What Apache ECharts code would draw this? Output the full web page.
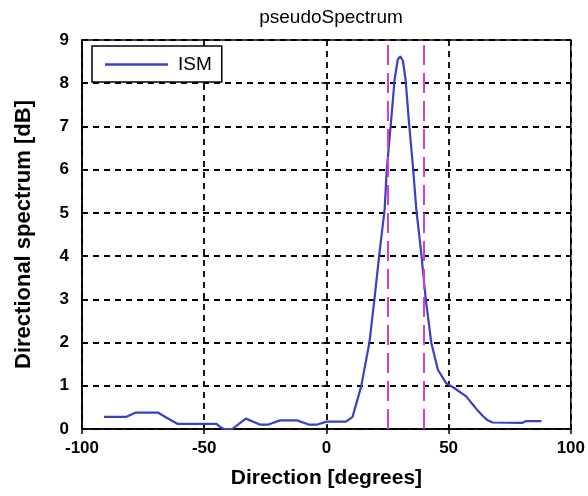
<!DOCTYPE html>
<html>
<head>
<meta charset="utf-8">
<script src="https://cdn.jsdelivr.net/npm/echarts@6/dist/echarts.min.js"></script>
<style>html,body{margin:0;padding:0;background:#fff}#c{width:588px;height:496px}</style>
</head>
<body>
<div id="c"></div>
<script>
var directions = [-91, -82, -78, -69, -65, -61, -45, -43.5, -42, -38.5, -33, -27, -24, -19, -12, -7, -4, 0, 5, 8, 10.7, 14.2, 17.6, 19.7, 21.7, 23.8, 24.7, 26.5, 27.9, 29.2, 30.2, 31.3, 32.4, 33.7, 35.4, 36.8, 38.8, 40.6, 42.9, 45.6, 49, 52, 57.3, 59.4, 62, 64, 66, 68, 80, 81.5, 88];
var spectrum = [0.28, 0.28, 0.38, 0.38, 0.25, 0.12, 0.12, 0.05, 0.0, 0.0, 0.24, 0.1, 0.1, 0.2, 0.2, 0.1, 0.1, 0.17, 0.17, 0.17, 0.28, 0.98, 2.0, 3.03, 4.07, 5.07, 6.0, 7.15, 8.08, 8.55, 8.62, 8.52, 8.08, 7.15, 6.07, 5.07, 4.07, 3.03, 2.0, 1.37, 1.06, 0.96, 0.75, 0.6, 0.42, 0.3, 0.2, 0.15, 0.14, 0.18, 0.18];
var boundaries = [25, 40];
var xTicks = [-100, -50, 0, 50, 100];
var yTicks = [0, 1, 2, 3, 4, 5, 6, 7, 8, 9];
var seriesName = 'ISM';

var pts = directions.map(function (d, i) { return [d, spectrum[i]]; });
var font = '"Liberation Sans", Arial, sans-serif';
var chart = echarts.init(document.getElementById('c'));
chart.setOption({
  animation: false,
  backgroundColor: '#fff',
  title: {
    text: 'pseudoSpectrum', left: 326, top: 3, textAlign: 'center',
    textStyle: { fontFamily: font, fontSize: 19, fontWeight: 'normal', color: '#000' }
  },
  legend: {
    data: [seriesName], left: 92, top: 46,
    orient: 'vertical', icon: 'rect',
    backgroundColor: '#fff',
    borderColor: '#000', borderWidth: 1.5, borderRadius: 0,
    padding: [9, 10, 8, 13],
    itemWidth: 63, itemHeight: 2.5, itemGap: 0,
    itemStyle: { color: '#3b3fc4' },
    textStyle: { fontFamily: font, fontSize: 19, color: '#000', padding: [0, 0, 0, 5] }
  },
  grid: {
    left: 82, right: 15, top: 40, bottom: 67,
    show: true, borderColor: '#000', borderWidth: 1.5, backgroundColor: 'transparent'
  },
  xAxis: [{
    type: 'value', min: xTicks[0], max: xTicks[xTicks.length - 1], interval: 50,
    name: 'Direction [degrees]', nameLocation: 'middle', nameGap: 39,
    nameTextStyle: { fontFamily: font, fontSize: 21, fontWeight: 'bold', color: '#000' },
    axisLine: { show: true, onZero: false, lineStyle: { color: '#000', width: 1.5 } },
    axisTick: { show: true, inside: true, length: 5, lineStyle: { color: '#000', width: 1.5 } },
    axisLabel: { fontFamily: font, fontSize: 17, fontWeight: 'bold', color: '#000', margin: 11 },
    splitLine: { show: true, lineStyle: { color: '#000', width: 1.8, type: [6, 5] } }
  }, {
    type: 'value', position: 'top', min: -100, max: 100, interval: 50,
    axisLine: { show: false },
    axisTick: { show: true, inside: true, length: 5, lineStyle: { color: '#000', width: 1.5 } },
    axisLabel: { show: false }, splitLine: { show: false }
  }],
  yAxis: [{
    type: 'value', min: yTicks[0], max: yTicks[yTicks.length - 1], interval: 1,
    name: 'Directional spectrum [dB]', nameLocation: 'middle', nameGap: 47,
    nameTextStyle: { fontFamily: font, fontSize: 22, fontWeight: 'bold', color: '#000' },
    axisLine: { show: true, onZero: false, lineStyle: { color: '#000', width: 1.5 } },
    axisTick: { show: true, inside: true, length: 5, lineStyle: { color: '#000', width: 1.5 } },
    axisLabel: { fontFamily: font, fontSize: 17, fontWeight: 'bold', color: '#000', margin: 13 },
    splitLine: { show: true, lineStyle: { color: '#000', width: 1.8, type: [6, 5] } }
  }, {
    type: 'value', position: 'right', min: 0, max: 9, interval: 1,
    axisLine: { show: false },
    axisTick: { show: true, inside: true, length: 5, lineStyle: { color: '#000', width: 1.5 } },
    axisLabel: { show: false }, splitLine: { show: false }
  }],
  series: [{
    name: seriesName, type: 'line', data: pts, symbol: 'none', smooth: false,
    lineStyle: { color: '#3b3fc4', width: 2.2 }, itemStyle: { color: '#3b3fc4' }, z: 3
  }, {
    name: 'bounds', type: 'line', data: [], symbol: 'none', silent: true,
    markLine: {
      symbol: 'none', silent: true, animation: false,
      label: { show: false },
      lineStyle: { color: '#d43fc4', width: 2, type: [20, 8] },
      data: boundaries.map(function (b) { return { xAxis: b }; })
    }
  }]
});
</script>
</body>
</html>
